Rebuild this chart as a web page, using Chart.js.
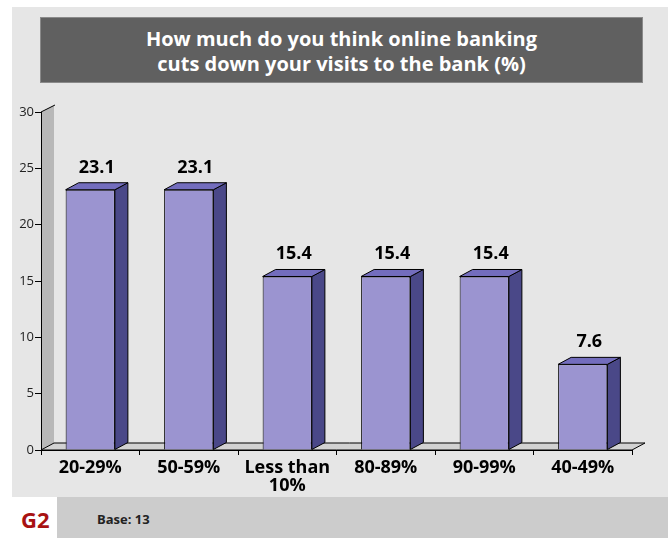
<!DOCTYPE html>
<html>
<head>
<meta charset="utf-8">
<script src="https://cdn.jsdelivr.net/npm/chart.js@4/dist/chart.umd.min.js"></script>
<style>
  body { margin: 0; background: #fff; width: 668px; height: 538px; overflow: hidden; position: relative; font-family: 'Open Sans', sans-serif; }
  #panel { position: absolute; left: 12px; top: 7px; width: 656px; height: 490px; background: #e6e6e6; }
  #title { position: absolute; left: 40px; top: 17px; width: 601px; background: #606060; border: 1px solid #8a8a8a;
           color: #fff; font-weight: bold; font-size: 20px; line-height: 25px; text-align: center; padding-top: 8px; height: 56px; }
  #footer { position: absolute; left: 57px; top: 497px; width: 611px; height: 41px; background: #cccccc; }
  #g2 { position: absolute; left: 21px; top: 504px; color: #a81212; font-weight: bold; font-size: 22px; line-height: 30px; }
  #base { position: absolute; left: 97px; top: 510px; color: #222; font-weight: bold; font-size: 13px; line-height: 18px; }
  #chart { position: absolute; left: 0; top: 0; }
</style>
</head>
<body>
<div id="panel"></div>
<div id="title">How much do you think online banking<br>cuts down your visits to the bank (%)</div>
<div id="footer"></div>
<div id="g2">G2</div>
<div id="base">Base: 13</div>
<canvas id="chart" width="668" height="538"></canvas>
<script>
var categories = ['20-29%', '50-59%', ['Less than', '10%'], '80-89%', '90-99%', '40-49%'];
var shares = [23.1, 23.1, 15.4, 15.4, 15.4, 7.6];
var axisMin = 0;
var axisMax = 30;
var axisStep = 5;

// depth of the fake 3d extrusion
var DX = 13, DY = -7;

function quad(ctx, pts, fill, stroke) {
    ctx.beginPath();
    ctx.moveTo(pts[0][0], pts[0][1]);
    for (var i = 1; i < pts.length; i++) ctx.lineTo(pts[i][0], pts[i][1]);
    ctx.closePath();
    if (fill) { ctx.fillStyle = fill; ctx.fill(); }
    if (stroke) { ctx.strokeStyle = stroke; ctx.lineWidth = 1; ctx.stroke(); }
}

var box3d = {
    id: 'box3d',
    beforeDraw: function (chart) {
        var a = chart.chartArea, ctx = chart.ctx;
        var L = a.left, R = a.right, T = a.top, B = a.bottom;
        ctx.save();
        // side wall
        quad(ctx, [[L, B], [L, T], [L + DX, T + DY], [L + DX, B + DY]], '#b8b8b8', null);
        ctx.beginPath();
        ctx.moveTo(L, T); ctx.lineTo(L + DX + 1, T + DY);
        ctx.strokeStyle = '#000'; ctx.stroke();
        // floor
        quad(ctx, [[L, B], [R, B], [R + DX, B + DY], [L + DX, B + DY]], '#d2d2d2', '#000');
        ctx.restore();
    },
    beforeDatasetsDraw: function (chart) {
        var ctx = chart.ctx;
        ctx.save();
        chart.getDatasetMeta(0).data.forEach(function (bar) {
            var x1 = bar.x - bar.width / 2, x2 = bar.x + bar.width / 2;
            var top = bar.y, base = bar.base;
            quad(ctx, [[x2, top], [x2 + DX, top + DY], [x2 + DX, base + DY], [x2, base]], '#4a4888', '#000');
            quad(ctx, [[x1, top], [x1 + DX, top + DY], [x2 + DX, top + DY], [x2, top]], '#736dbd', '#000');
        });
        ctx.restore();
    },
    afterDatasetsDraw: function (chart) {
        var ctx = chart.ctx;
        ctx.save();
        ctx.font = 'bold 18px "Open Sans", sans-serif';
        ctx.fillStyle = '#000';
        ctx.textAlign = 'center';
        ctx.textBaseline = 'alphabetic';
        chart.getDatasetMeta(0).data.forEach(function (bar, i) {
            ctx.fillText(shares[i].toFixed(1), bar.x + DX / 2, bar.y + DY - 10);
        });
        ctx.restore();
    }
};

Chart.defaults.font.family = "'Open Sans', sans-serif";

new Chart(document.getElementById('chart'), {
    type: 'bar',
    data: {
        labels: categories,
        datasets: [{
            data: shares,
            backgroundColor: '#9b94d0',
            borderColor: '#000',
            borderWidth: 1,
            barPercentage: 0.5,
            categoryPercentage: 1.0
        }]
    },
    options: {
        responsive: false,
        animation: false,
        layout: { padding: { left: 13, right: 36, top: 112, bottom: 38 } },
        plugins: { legend: { display: false }, tooltip: { enabled: false } },
        scales: {
            x: {
                afterFit: function (s) { s.height = 50; },
                border: { color: '#000', width: 1 },
                grid: { drawOnChartArea: false, tickLength: 5, color: '#000' },
                ticks: { color: '#000', font: { size: 18, weight: 'bold', lineHeight: 1.0 }, padding: 4, maxRotation: 0, autoSkip: false }
            },
            y: {
                min: axisMin,
                max: axisMax,
                afterFit: function (s) { s.width = 28; },
                border: { color: '#000', width: 1 },
                grid: { drawOnChartArea: false, tickLength: 6, color: '#000' },
                ticks: { stepSize: axisStep, color: '#222', font: { size: 13 }, padding: 1 }
            }
        }
    },
    plugins: [box3d]
});
</script>
</body>
</html>
